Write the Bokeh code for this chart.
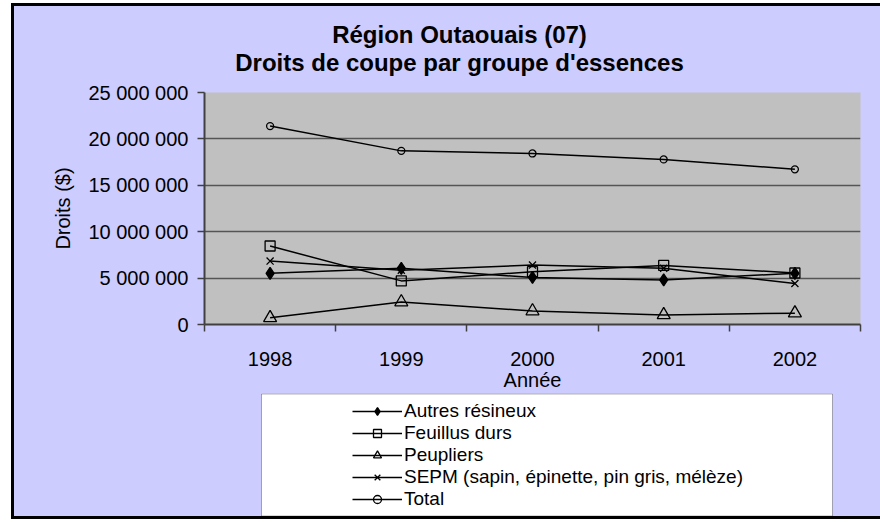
from bokeh.plotting import figure
from bokeh.models import FixedTicker, Legend, LegendItem, Range1d, BoxAnnotation
from bokeh.core.properties import value
from bokeh.layouts import column
from bokeh.embed import file_html
from bokeh.resources import INLINE

# ---- data ----
years = [1998, 1999, 2000, 2001, 2002]
autres_resineux = [5520000, 6050000, 5070000, 4800000, 5520000]
feuillus_durs = [8460000, 4700000, 5690000, 6370000, 5550000]
peupliers = [720000, 2420000, 1450000, 1030000, 1220000]
sepm = [6830000, 5850000, 6400000, 6050000, 4420000]
total = [21380000, 18710000, 18430000, 17790000, 16720000]

series_names = ["Autres résineux", "Feuillus durs", "Peupliers",
                "SEPM (sapin, épinette, pin gris, mélèze)", "Total"]

y_ticks = [0, 5000000, 10000000, 15000000, 20000000, 25000000]
y_tick_labels = ["0", "5 000 000", "10 000 000", "15 000 000", "20 000 000", "25 000 000"]
x_tick_labels = ["1998", "1999", "2000", "2001", "2002"]
category_bounds = [1997.5, 1998.5, 1999.5, 2000.5, 2001.5, 2002.5]

title_lines = ["Région Outaouais (07)", "Droits de coupe par groupe d'essences"]
x_label = "Année"
y_label = "Droits ($)"

FONT = "Liberation Sans"
LAV = "#CCCCFF"
AXC = "#404040"
W = 866
BL, BR = 190, 20          # shared left / right borders (frames aligned)
FW = W - BL - BR          # frame width in px (656)


def bare(fig):
    fig.background_fill_alpha = 0
    fig.border_fill_color = LAV
    fig.outline_line_color = None
    fig.xgrid.visible = False
    fig.ygrid.visible = False


# ---------- title strip ----------
TH = 74
pt = figure(width=W, height=TH, x_range=Range1d(0, FW), y_range=Range1d(0, TH),
            output_backend="svg", toolbar_location=None,
            x_axis_location=None, y_axis_location=None,
            min_border_left=BL, min_border_right=BR,
            min_border_top=0, min_border_bottom=0)
bare(pt)
pt.text(x=[255, 255], y=[46, 18], text=title_lines,
        text_align="center", text_baseline="middle",
        text_font=value(FONT), text_font_size="24px",
        text_font_style="bold", text_color="black")

# ---------- main chart ----------
p = figure(width=W, height=313,
           x_range=(category_bounds[0], category_bounds[-1]),
           y_range=(y_ticks[0], y_ticks[-1]),
           output_backend="svg", toolbar_location=None,
           min_border_left=BL, min_border_right=BR,
           min_border_top=12, min_border_bottom=67)
p.background_fill_color = "#C0C0C0"
p.border_fill_color = LAV
p.outline_line_color = None

yax = p.yaxis[0]
yax.ticker = FixedTicker(ticks=y_ticks)
yax.major_label_overrides = {t: s for t, s in zip(y_ticks, y_tick_labels)}
yax.major_label_text_font = FONT
yax.major_label_text_font_size = "20px"
yax.major_label_text_color = "black"
yax.major_label_standoff = 9
yax.axis_line_color = AXC
yax.axis_line_width = 2
yax.major_tick_line_color = AXC
yax.major_tick_line_width = 1.5
yax.major_tick_out = 7
yax.major_tick_in = 0
yax.minor_tick_line_color = None
yax.axis_label = y_label
yax.axis_label_text_font = FONT
yax.axis_label_text_font_size = "20px"
yax.axis_label_text_font_style = "normal"
yax.axis_label_text_color = "black"
yax.axis_label_standoff = 11

xax = p.xaxis[0]
xax.ticker = FixedTicker(ticks=years, minor_ticks=category_bounds)
xax.major_label_overrides = {y: s for y, s in zip(years, x_tick_labels)}
xax.major_label_text_font = FONT
xax.major_label_text_font_size = "20px"
xax.major_label_text_color = "black"
xax.major_tick_line_color = None
xax.major_tick_out = 0
xax.major_tick_in = 0
xax.major_label_standoff = 20
xax.minor_tick_line_color = AXC
xax.minor_tick_line_width = 1.5
xax.minor_tick_out = 7
xax.minor_tick_in = 0
xax.axis_line_color = AXC
xax.axis_line_width = 2
xax.axis_label = x_label
xax.axis_label_text_font = FONT
xax.axis_label_text_font_size = "20px"
xax.axis_label_text_font_style = "normal"
xax.axis_label_text_color = "black"
xax.axis_label_standoff = 0

p.xgrid.visible = False
p.ygrid.ticker = FixedTicker(ticks=y_ticks)
p.ygrid.grid_line_color = "#555555"
p.ygrid.grid_line_width = 1.5

specs = [
    (autres_resineux, "diamond", 12, "black"),
    (feuillus_durs, "square", 10, None),
    (peupliers, "triangle", 13, None),
    (sepm, "x", 10, None),
    (total, "circle", 7, None),
]
for (vals, marker, size, fill) in specs:
    p.line(years, vals, line_color="black", line_width=1.5)
    p.scatter(years, vals, marker=marker, size=size, line_color="black",
              line_width=1.3, fill_color=fill)

# ---------- legend strip ----------
LH = 123
pl = figure(width=W, height=LH, x_range=Range1d(0, FW), y_range=Range1d(0, LH),
            output_backend="svg", toolbar_location=None,
            x_axis_location=None, y_axis_location=None,
            min_border_left=BL, min_border_right=BR,
            min_border_top=0, min_border_bottom=0)
bare(pl)

box = BoxAnnotation(left=57, right=628, top=LH - 0.5, bottom=0.5,
                    fill_color="white", fill_alpha=1.0,
                    line_color="black", line_width=1)
pl.add_layout(box)

items = []
for (vals, marker, size, fill), name in zip(specs, series_names):
    # legend-sample renderers (kept outside the visible range)
    ln = pl.line(x=[-20, -10], y=[-20, -10], line_color="black", line_width=1.5)
    sc = pl.scatter(x=[-20, -10], y=[-20, -10], marker=marker, line_color="black",
                    line_width=1.3, fill_color=fill)
    items.append(LegendItem(label=name, renderers=[ln, sc]))

legend = Legend(items=items, location=(148, 6),
                background_fill_alpha=0, border_line_color=None,
                padding=0, margin=0, spacing=0,
                label_height=20, glyph_height=20, glyph_width=50,
                label_standoff=2,
                label_text_font=FONT, label_text_font_size="19px",
                label_text_line_height=1.0,
                label_text_color="black")
pl.add_layout(legend, "center")

layout = column(pt, p, pl, spacing=0, styles={
    "margin-left": "11px", "margin-top": "3px",
    "box-sizing": "content-box",
    "overflow": "hidden",
    "background-color": LAV,
    "border-left": "3px solid black", "border-top": "3px solid black",
    "border-bottom": "3px solid black",
})

open("out.html", "w").write(file_html(layout, INLINE))
